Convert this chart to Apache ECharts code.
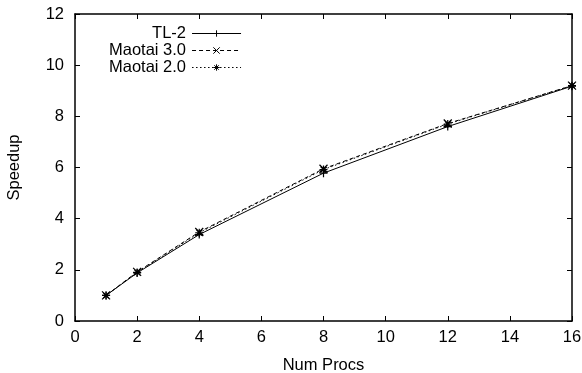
<!DOCTYPE html>
<html>
<head>
<meta charset="utf-8">
<script src="https://cdn.jsdelivr.net/npm/echarts@6/dist/echarts.min.js"></script>
<style>
  html, body { margin: 0; padding: 0; background: #fff; }
  #chart { width: 582px; height: 373px; }
</style>
</head>
<body>
<div id="chart"></div>
<script>
const procs = [1, 2, 4, 8, 12, 16];
const tl2 = [1.0, 1.88, 3.38, 5.78, 7.6, 9.18];
const maotai30 = [1.0, 1.92, 3.48, 5.95, 7.72, 9.2];
const maotai20 = [1.0, 1.9, 3.45, 5.92, 7.7, 9.2];

const plusIcon = "path://M0,5L10,5M5,0L5,10";
const crossIcon = "path://M1,1L9,9M9,1L1,9";
const starIcon = "path://M0,5L10,5M5,0L5,10M1.5,1.5L8.5,8.5M8.5,1.5L1.5,8.5";

const font = "Liberation Sans, Arial, sans-serif";
const fontSize = 16.5;

function pairs(values) {
  return procs.map((x, i) => [x, values[i]]);
}

function makeSeries(name, values, symbol, dash) {
  return {
    name,
    type: "line",
    data: pairs(values),
    symbol,
    symbolSize: 8,
    showAllSymbol: true,
    animation: false,
    lineStyle: { color: "#000", width: 1, type: dash },
    itemStyle: { color: "#000", borderColor: "#000", borderWidth: 1.2 },
  };
}

const baseAxis = {
  min: 0,
  interval: 2,
  axisLine: { show: true, onZero: false, lineStyle: { color: "#000", width: 1.5 } },
  axisTick: { show: true, inside: true, length: 5, lineStyle: { color: "#000", width: 1 } },
  splitLine: { show: false },
};

const chart = echarts.init(document.getElementById("chart"), undefined, { renderer: "canvas" });
chart.setOption({
  animation: false,
  textStyle: { fontFamily: font },
  grid: { left: 75, right: 10, top: 14, bottom: 52, outerBoundsMode: "none", containLabel: false },
  legend: {
    orient: "vertical",
    left: 104,
    top: 20,
    align: "right",
    itemGap: 0,
    itemWidth: 49,
    itemHeight: 8,
    lineStyle: { width: 1 },
    itemStyle: { borderWidth: 1 },
    textStyle: {
      fontSize,
      color: "#000",
      fontFamily: font,
      width: 81,
      align: "right",
      padding: [0, 1, 0, 0],
    },
    data: ["TL-2", "Maotai 3.0", "Maotai 2.0"],
  },
  xAxis: [
    {
      ...baseAxis,
      type: "value",
      max: 16,
      name: "Num Procs",
      nameLocation: "middle",
      nameGap: 36,
      nameTextStyle: { fontSize, color: "#000", fontFamily: font },
      axisLabel: { fontSize, color: "#000", margin: 8, fontFamily: font },
    },
    {
      ...baseAxis,
      type: "value",
      max: 16,
      position: "top",
      axisLabel: { show: false },
    },
  ],
  yAxis: [
    {
      ...baseAxis,
      type: "value",
      max: 12,
      name: "Speedup",
      nameLocation: "middle",
      nameGap: 52,
      nameTextStyle: { fontSize, color: "#000", fontFamily: font },
      axisLabel: { fontSize, color: "#000", margin: 11, fontFamily: font },
    },
    {
      ...baseAxis,
      type: "value",
      max: 12,
      position: "right",
      axisLabel: { show: false },
    },
  ],
  series: [
    makeSeries("TL-2", tl2, plusIcon, "solid"),
    makeSeries("Maotai 3.0", maotai30, crossIcon, [4, 3]),
    makeSeries("Maotai 2.0", maotai20, starIcon, [1.5, 2.5]),
  ],
});
</script>
</body>
</html>
